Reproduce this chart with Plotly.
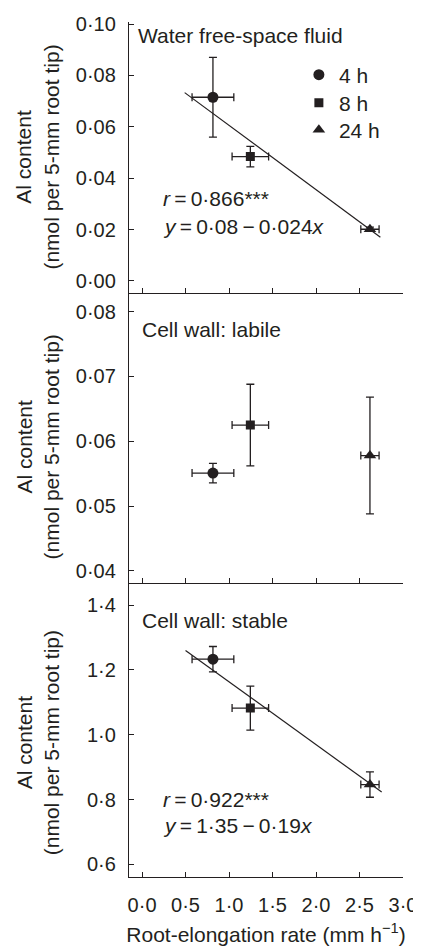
import plotly.graph_objects as go
from plotly.subplots import make_subplots

# ---------------- data ----------------
times = ["4 h", "8 h", "24 h"]
symbols = ["circle", "square", "triangle-up"]
marker_sizes = [11, 9, 11]

elong_rate = [0.815, 1.245, 2.62]
elong_err = [0.24, 0.21, 0.105]

water_fsf = [0.0715, 0.0484, 0.0201]
water_fsf_err = [0.0155, 0.0040, 0.0008]

labile = [0.0551, 0.0625, 0.0578]
labile_err = [0.0015, 0.0063, 0.0090]

stable = [1.233, 1.082, 0.846]
stable_err = [0.039, 0.068, 0.039]

water_fit_x = [0.49, 2.74]
water_fit_y = [0.0733, 0.0170]
stable_fit_x = [0.50, 2.755]
stable_fit_y = [1.260, 0.823]

x_ticks = [0.0, 0.5, 1.0, 1.5, 2.0, 2.5, 3.0]
x_ticklabels = ["0·0", "0·5", "1·0", "1·5", "2·0", "2·5", "3·0"]
y1_ticks = [0.00, 0.02, 0.04, 0.06, 0.08, 0.10]
y1_ticklabels = ["0·00", "0·02", "0·04", "0·06", "0·08", "0·10"]
y2_ticks = [0.04, 0.05, 0.06, 0.07, 0.08]
y2_ticklabels = ["0·04", "0·05", "0·06", "0·07", "0·08"]
y3_ticks = [0.6, 0.8, 1.0, 1.2, 1.4]
y3_ticklabels = ["0·6", "0·8", "1·0", "1·2", "1·4"]

panel_titles = ["Water free-space fluid", "Cell wall: labile", "Cell wall: stable"]
y_title = "Al content<br>(nmol per 5-mm root tip)"
x_title = "Root-elongation rate (mm h<sup>−1</sup>)"
TS = "\u2009"  # thin space
eq_water = [f"<i>r</i>{TS}={TS}0·866***", f"<i>y</i>{TS}={TS}0·08{TS}−{TS}0·024<i>x</i>"]
eq_stable = [f"<i>r</i>{TS}={TS}0·922***", f"<i>y</i>{TS}={TS}1·35{TS}−{TS}0·19<i>x</i>"]

INK = "#231f20"
FONT = "Liberation Sans, Arial, sans-serif"

fig = make_subplots(rows=3, cols=1, vertical_spacing=0)

legend_ids = ["legend", "legend2", "legend3"]
panels = [(1, water_fsf, water_fsf_err), (2, labile, labile_err), (3, stable, stable_err)]
for row, vals, errs in panels:
    for i, t in enumerate(times):
        fig.add_trace(go.Scatter(
            x=[elong_rate[i]], y=[vals[i]], mode="markers", name=t,
            legendgroup=t, showlegend=(row == 1), legend=legend_ids[i],
            marker=dict(symbol=symbols[i], size=marker_sizes[i], color=INK),
            error_x=dict(type="data", array=[elong_err[i]], color=INK, thickness=1.3, width=4),
            error_y=dict(type="data", array=[errs[i]], color=INK, thickness=1.3, width=4),
        ), row=row, col=1)

fig.add_trace(go.Scatter(x=water_fit_x, y=water_fit_y, mode="lines",
                         line=dict(color=INK, width=1.2), showlegend=False), row=1, col=1)
fig.add_trace(go.Scatter(x=stable_fit_x, y=stable_fit_y, mode="lines",
                         line=dict(color=INK, width=1.2), showlegend=False), row=3, col=1)

tickfont = dict(family=FONT, size=20, color=INK)
common_x = dict(range=[-0.15, 3.0], tickvals=x_ticks, ticktext=x_ticklabels,
                showline=True, linecolor=INK, linewidth=1.3, ticks="inside",
                ticklen=5, tickwidth=1.3, tickcolor=INK, showgrid=False,
                zeroline=False, tickfont=tickfont, automargin=False)
common_y = dict(showline=True, linecolor=INK, linewidth=1.3, ticks="inside",
                ticklen=5, tickwidth=1.3, tickcolor=INK, showgrid=False,
                zeroline=False, tickfont=tickfont, ticklabelstandoff=8, automargin=False)

fig.update_xaxes(**common_x)
fig.update_xaxes(showticklabels=False, row=1, col=1)
fig.update_xaxes(showticklabels=False, row=2, col=1)
fig.update_xaxes(ticklabelstandoff=10, title=dict(text=x_title, standoff=12,
                 font=dict(family=FONT, size=21, color=INK)), row=3, col=1)

fig.update_yaxes(**common_y)
fig.update_yaxes(range=[-0.0049, 0.1008], tickvals=y1_ticks, ticktext=y1_ticklabels, row=1, col=1)
fig.update_yaxes(range=[0.0381, 0.0828], tickvals=y2_ticks, ticktext=y2_ticklabels, row=2, col=1)
fig.update_yaxes(range=[0.561, 1.467], tickvals=y3_ticks, ticktext=y3_ticklabels, row=3, col=1)

# domains
fig.update_layout(
    yaxis=dict(domain=[0.6825, 1.0]),
    yaxis2=dict(domain=[0.3435, 0.6825]),
    yaxis3=dict(domain=[0.0, 0.3435]),
)

annots = []
title_pos = [(0.027, 0.952), (0.04, 0.874), (0.04, 0.875)]
for k, (txt, (ax, ay)) in enumerate(zip(panel_titles, title_pos)):
    suffix = "" if k == 0 else str(k + 1)
    annots.append(dict(text=txt, xref="x" + suffix + " domain", yref="y" + suffix + " domain",
                       x=ax, y=ay, xanchor="left", yanchor="middle", showarrow=False,
                       font=dict(family=FONT, size=21, color=INK)))

eq_texts = [
    ("", eq_water[0], 0.348),
    ("", eq_water[1], 0.245),
    ("3", eq_stable[0], 0.265),
    ("3", eq_stable[1], 0.176),
]
for suf, txt, ay in eq_texts:
    annots.append(dict(text=txt, xref="x" + suf + " domain", yref="y" + suf + " domain",
                       x=0.115, y=ay, xanchor="left", yanchor="middle", showarrow=False,
                       font=dict(family=FONT, size=21, color=INK)))

for py in [0.842, 0.503, 0.157]:
    annots.append(dict(text=y_title, xref="paper", yref="paper", x=-0.334, y=py,
                       xanchor="center", yanchor="middle", textangle=-90, showarrow=False,
                       font=dict(family=FONT, size=21, color=INK)))

leg_common = dict(xanchor="left", yanchor="middle", bgcolor="rgba(0,0,0,0)",
                  font=dict(family=FONT, size=21, color=INK), itemwidth=30)
leg_x = 0.62
# page body has an 8px margin, so the figure is drawn 8px smaller
fig.update_layout(
    width=413, height=938,
    margin=dict(l=121, r=18, t=14, b=69),
    paper_bgcolor="white", plot_bgcolor="white",
    font=dict(family=FONT, size=21, color=INK),
    annotations=annots,
    legend=dict(x=leg_x, y=(877 - 75) / 855, **leg_common),
    legend2=dict(x=leg_x, y=(877 - 103) / 855, **leg_common),
    legend3=dict(x=leg_x, y=(877 - 130) / 855, **leg_common),
    showlegend=True,
)

fig.write_html("out.html")
